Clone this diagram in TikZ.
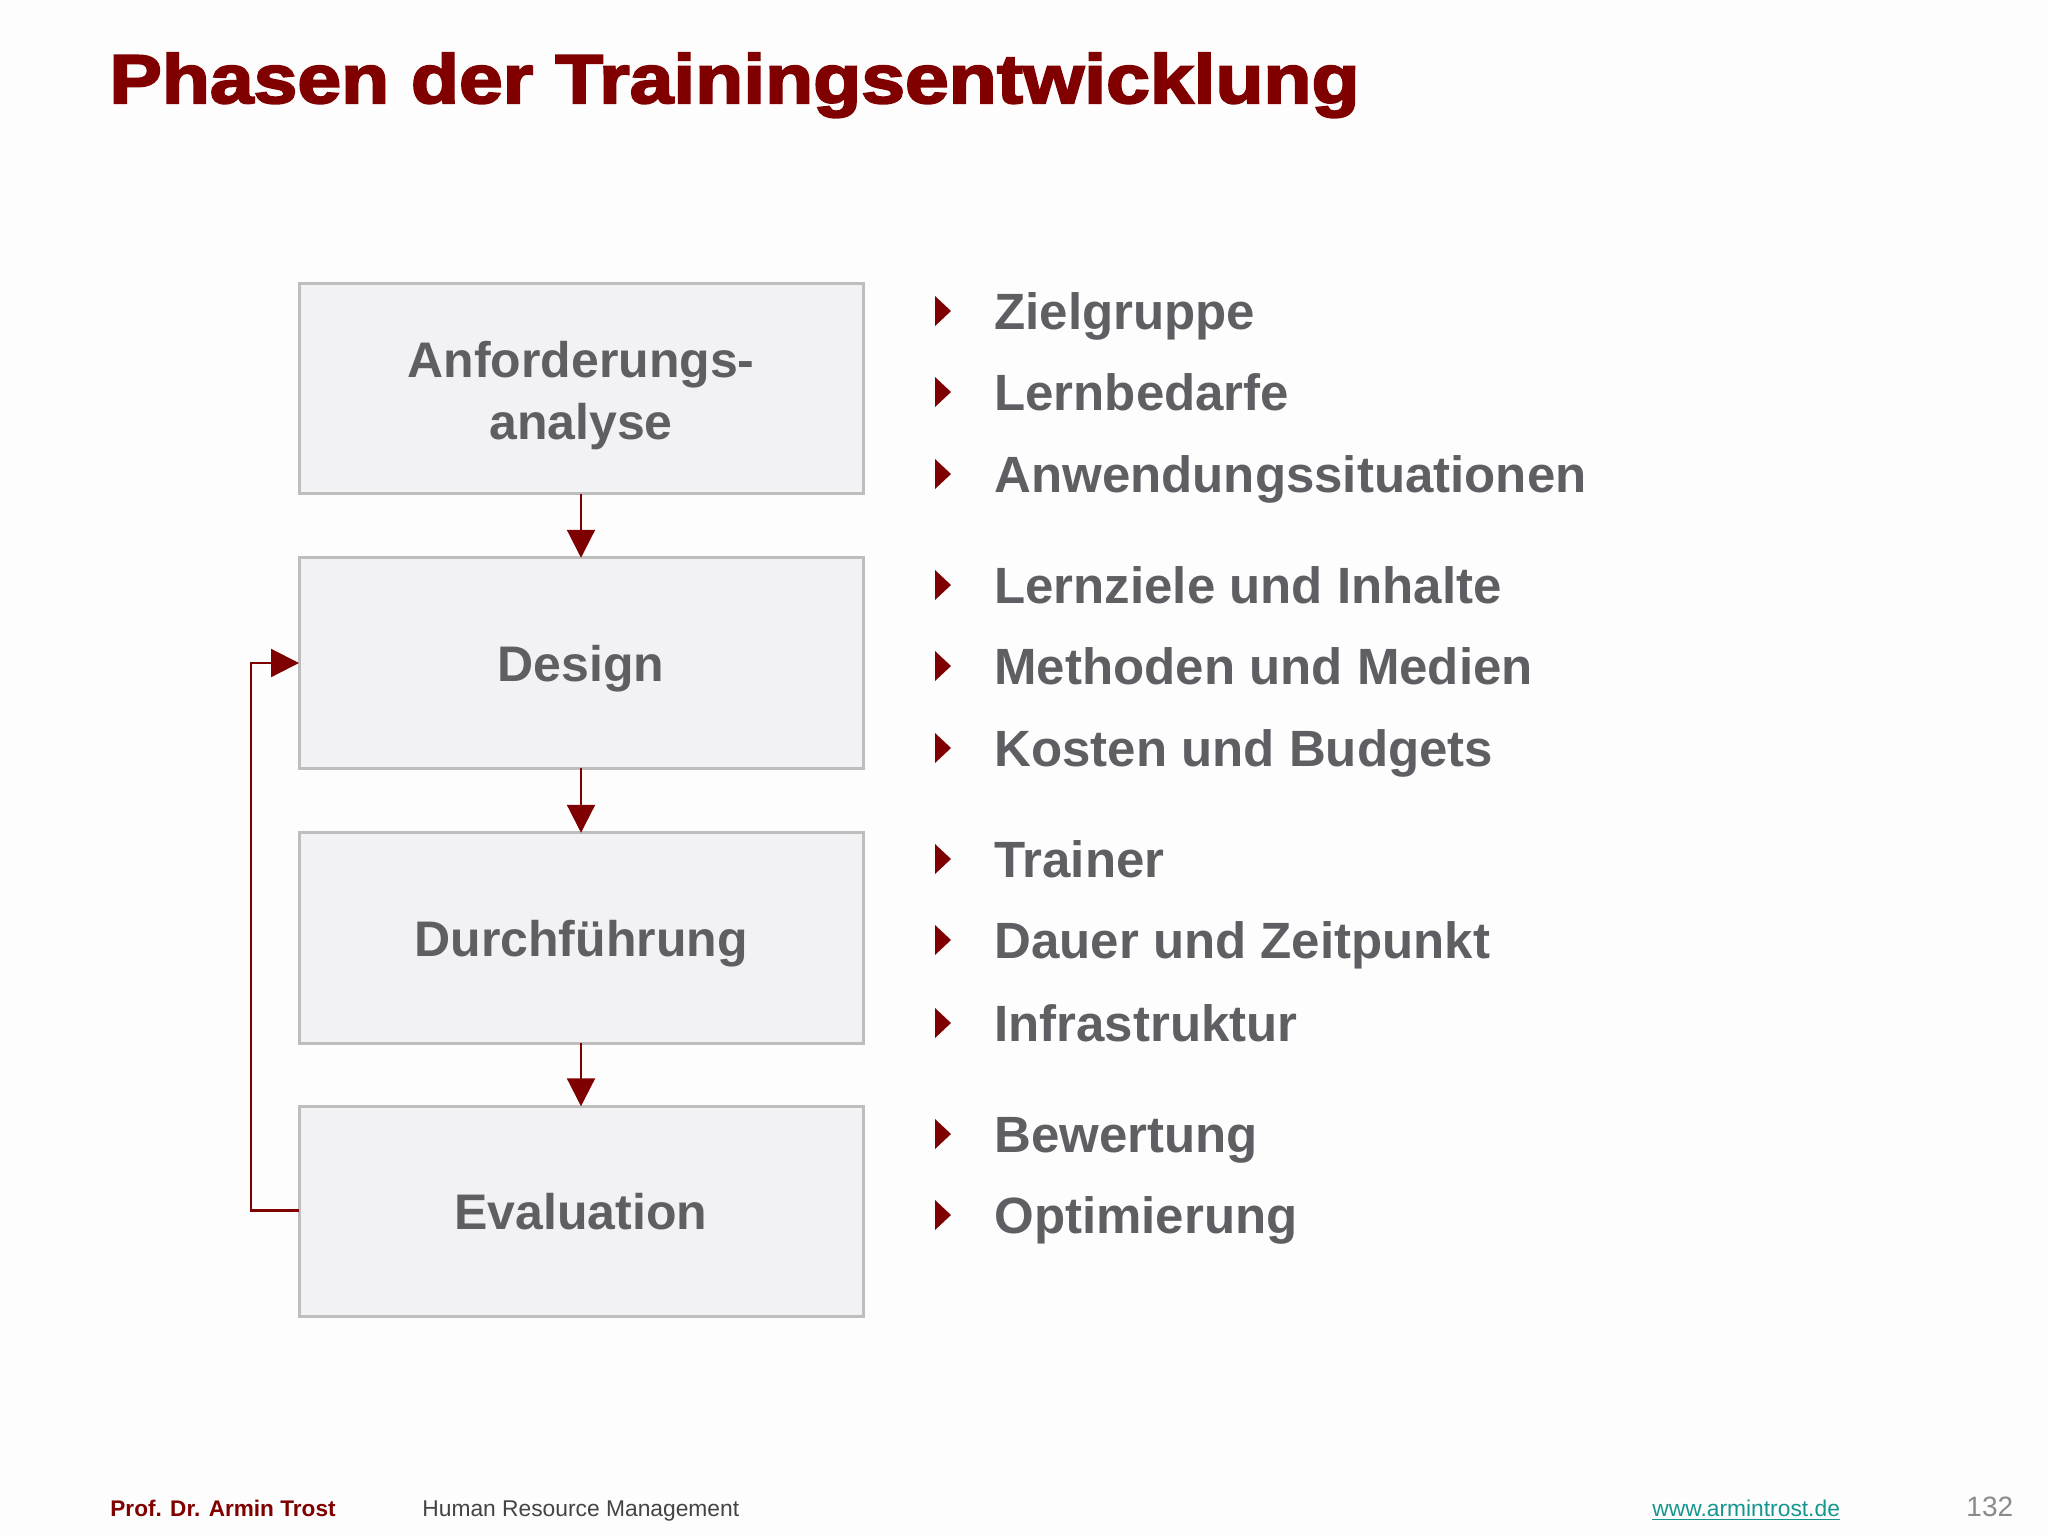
\documentclass[tikz,border=0pt]{standalone}
\usepackage{fontspec}
\setmainfont{Liberation Sans}
\usetikzlibrary{arrows.meta}
\definecolor{titlered}{HTML}{800000}
\definecolor{arrowred}{HTML}{7F0000}
\definecolor{boxfill}{HTML}{F2F1F3}
\definecolor{boxborder}{HTML}{BEBEBE}
\definecolor{textgray}{HTML}{5F5E63}
\definecolor{footgray}{HTML}{444444}
\definecolor{linkteal}{HTML}{16968F}
\definecolor{pagegray}{HTML}{8A8A8A}
\definecolor{bgcol}{HTML}{FDFDFD}
\tikzset{
  phase/.style={draw=boxborder, fill=boxfill, line width=1.5pt,
    minimum width=282pt, minimum height=105.25pt, inner sep=0pt, outer sep=0pt,
    align=center, text=textgray, font=\fontsize{25}{31}\selectfont\bfseries},
  phaselabel/.style={inner sep=0pt, align=center, text=textgray,
    font=\fontsize{25}{31}\selectfont\bfseries},
  oneline/.style={text height=18pt, text depth=0pt},
  flow/.style={draw=arrowred, line width=1.1pt, -{Triangle[width=14pt,length=14pt]}},
  item/.style={anchor=base west, inner sep=0pt, text=textgray,
    font=\fontsize{25.5}{30}\selectfont\bfseries},
  bullet/.style={fill=arrowred},
  foot/.style={anchor=base west, inner sep=0pt}
}
\begin{document}
\begin{tikzpicture}[x=0.5pt,y=-0.5pt]
\fill[bgcol] (0,0) rectangle (2048,1536);
\useasboundingbox (0,0) rectangle (2048,1536);

\node[anchor=base west, inner sep=0pt, text=titlered,
  font=\fontsize{34.5}{40}\selectfont\bfseries\addfontfeature{FakeStretch=1.14,FakeBold=3}]
  (title) at (109,103) {Phasen der Trainingsentwicklung};

\node[phase, label={[phaselabel, name=b1t, yshift=-3.5pt]center:Anforderungs-\\analyse}] (b1) at (581,388.5) {};
\node[phase,oneline] (b2) at (581,663) {Design};
\node[phase,oneline] (b3) at (581,938) {Durchführung};
\node[phase,oneline] (b4) at (581,1211.5) {Evaluation};

\draw[flow] (b1.south) -- (b2.north);
\draw[flow] (b2.south) -- (b3.north);
\draw[flow] (b3.south) -- (b4.north);
\coordinate (fb) at (251,1210.5);
\draw[flow] (b4.west |- fb) -- (fb) |- (b2.west);

\foreach \y/\t [count=\i] in {311/Zielgruppe, 392/Lernbedarfe, 474/Anwendungssituationen,
  585/Lernziele und Inhalte, 666/Methoden und Medien, 748/Kosten und Budgets,
  859/Trainer, 940/Dauer und Zeitpunkt, 1023/Infrastruktur,
  1134/Bewertung, 1215/Optimierung} {
  \node[item] (i\i) at (994,\y+18) {\t};
  \fill[bullet] (935,\y-15) -- (951,\y) -- (935,\y+15) -- cycle;
}

\node[foot, text=titlered, font=\fontsize{11.3}{13}\selectfont\bfseries] (author) at (110,1516) {Prof. Dr. Armin Trost};
\node[foot, text=footgray, font=\fontsize{11.4}{13}\selectfont] (course) at (422,1516) {Human Resource Management};
\node[foot, text=linkteal, font=\fontsize{11.4}{13}\selectfont] (web) at (1652,1516) {\underline{www.armintrost.de}};
\node[foot, text=pagegray, font=\fontsize{14}{16}\selectfont] (page) at (1966,1516) {132};
\end{tikzpicture}
\end{document}
